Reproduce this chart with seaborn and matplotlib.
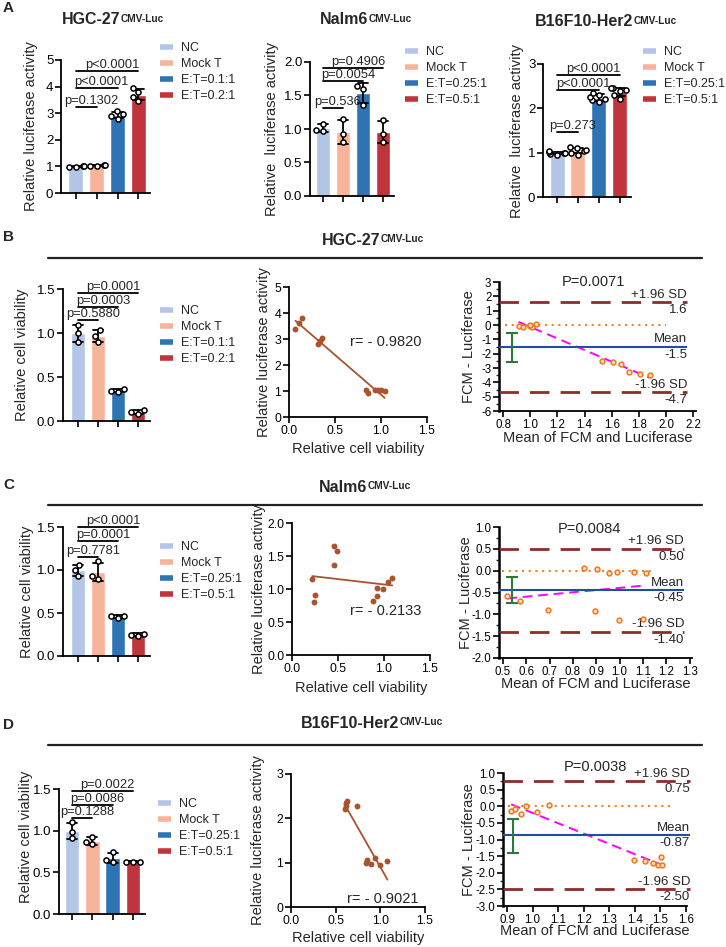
import numpy as np
import pandas as pd
import matplotlib
matplotlib.use("Agg")
import matplotlib.pyplot as plt
from matplotlib.lines import Line2D
from matplotlib.ticker import FormatStrFormatter, MultipleLocator
import seaborn as sns

# ------ DATA ------
groups_a = ["NC", "Mock T", "E:T=0.1:1", "E:T=0.2:1"]
groups_b = ["NC", "Mock T", "E:T=0.25:1", "E:T=0.5:1"]
bar_colors = ["#B4C6E7", "#F8B49A", "#2E74B5", "#C0343B"]

# A: relative luciferase activity (replicates per group)
hgc_luc = [[0.96, 0.99, 1.01, 1.03], [1.01, 1.03, 1.05, 1.06],
           [2.80, 2.90, 2.96, 3.08], [3.45, 3.60, 3.80, 3.95]]
nalm_luc = [[0.97, 0.99, 1.08], [0.80, 0.93, 1.15],
            [1.36, 1.60, 1.64], [0.80, 0.93, 1.13]]
b16_luc = [[0.95, 0.97, 0.99, 1.00, 1.02, 1.03], [0.95, 1.00, 1.04, 1.07, 1.10, 1.12],
           [2.15, 2.18, 2.22, 2.25, 2.30, 2.35], [2.22, 2.30, 2.38, 2.42, 2.45, 2.46]]
hgc_luc_p = ["p=0.1302", "p<0.0001", "p<0.0001"]
nalm_luc_p = ["p=0.536", "p=0.0054", "p=0.4906"]
b16_luc_p = ["p=0.273", "p<0.0001", "p<0.0001"]

# B-D: relative cell viability
hgc_via = [[0.90, 1.00, 1.09], [0.90, 0.97, 1.03], [0.33, 0.34, 0.36], [0.08, 0.10, 0.12]]
nalm_via = [[0.93, 1.00, 1.06], [0.90, 0.93, 1.10], [0.44, 0.46, 0.47], [0.23, 0.25, 0.26]]
b16_via = [[0.91, 0.99, 1.10], [0.84, 0.86, 0.93], [0.63, 0.65, 0.74], [0.62, 0.63, 0.63]]
hgc_via_p = ["p=0.5880", "p=0.0003", "p=0.0001"]
nalm_via_p = ["p=0.7781", "p=0.0001", "p<0.0001"]
b16_via_p = ["p=0.1288", "p=0.0086", "p=0.0022"]

# correlation: viability vs luciferase
hgc_cor_x = [0.07, 0.11, 0.14, 0.32, 0.34, 0.36, 0.84, 0.86, 0.93, 0.97, 1.00, 1.04]
hgc_cor_y = [3.38, 3.62, 3.82, 2.80, 2.92, 3.05, 1.02, 0.94, 1.04, 1.02, 1.04, 0.99]
nalm_cor_x = [0.22, 0.25, 0.24, 0.46, 0.49, 0.46, 0.88, 0.92, 0.92, 0.99, 1.04, 1.09]
nalm_cor_y = [1.15, 0.91, 0.81, 1.65, 1.58, 1.37, 0.82, 0.90, 1.02, 1.00, 1.10, 1.17]
b16_cor_x = [0.60, 0.62, 0.63, 0.62, 0.74, 0.85, 0.84, 0.90, 0.94, 1.00, 1.08]
b16_cor_y = [2.20, 2.34, 2.39, 2.28, 2.28, 1.07, 1.00, 0.96, 1.11, 0.95, 1.03]
hgc_r, nalm_r, b16_r = "r= - 0.9820", "r= - 0.2133", "r= - 0.9021"

# Bland-Altman: mean vs difference
hgc_ba_x = [0.914, 0.95, 0.998, 1.015, 1.04, 1.0, 1.53, 1.61, 1.67, 1.73, 1.81, 1.88]
hgc_ba_y = [-0.05, -0.16, -0.05, -0.12, 0.07, 0.0, -2.48, -2.6, -2.7, -3.29, -3.45, -3.52]
nalm_ba_x = [0.518, 0.573, 0.694, 0.847, 0.893, 0.905, 0.953, 0.988, 0.997, 1.06, 1.114, 1.10]
nalm_ba_y = [-0.58, -0.69, -0.91, 0.05, -0.92, 0.04, -0.06, -0.02, -1.12, -0.04, -0.06, -1.10]
b16_ba_x = [0.916, 0.93, 0.955, 0.975, 1.017, 1.063, 1.395, 1.44, 1.47, 1.49, 1.505, 1.503]
b16_ba_y = [-0.15, -0.07, -0.24, 0.0, -0.17, 0.03, -1.61, -1.65, -1.71, -1.78, -1.78, -1.53]
hgc_ba_lines, hgc_ba_vals = [1.6, -1.5, -4.7], ["1.6", "-1.5", "-4.7"]
nalm_ba_lines, nalm_ba_vals = [0.50, -0.45, -1.40], ["0.50", "-0.45", "-1.40"]
b16_ba_lines, b16_ba_vals = [0.75, -0.87, -2.50], ["0.75", "-0.87", "-2.50"]
hgc_ba_ci, nalm_ba_ci, b16_ba_ci = [-2.6, -0.55], [-0.75, -0.14], [-1.41, -0.37]
hgc_ba_p, nalm_ba_p, b16_ba_p = "P=0.0071", "P=0.0084", "P=0.0038"

# ------ STYLE ------
sns.set_style("ticks")
plt.rcParams["font.family"] = ["Liberation Sans", "DejaVu Sans"]
plt.rcParams["axes.unicode_minus"] = False

W, H = 726, 947
fig = plt.figure(figsize=(W / 100, H / 100), dpi=100)
brown = "#A9532F"


def fxy(x, y):
    return x / W, 1 - y / H


def add_ax(box):
    l, t, r, b = box
    return fig.add_axes([l / W, 1 - b / H, (r - l) / W, (b - t) / H])


def style(ax, box, ylab_x=None, xlab_y=None, ylab_frac=0.5, labelsize=9.3):
    l, t, r, b = box
    sns.despine(ax=ax)
    for s in ["left", "bottom"]:
        ax.spines[s].set_linewidth(1.3)
        ax.spines[s].set_color("black")
    ax.tick_params(direction="out", length=4, width=1.2, labelsize=labelsize, colors="black", pad=1.5)
    if ylab_x is not None:
        ax.yaxis.set_label_coords((ylab_x + 6 - l) / (r - l), ylab_frac)
    if xlab_y is not None:
        ax.xaxis.set_label_coords(0.5, (b - (xlab_y - 7)) / (b - t))


def bar_panel(box, reps, groups, ylim, ystep, fmt, ylabel, ylab_x, p_texts, p_heights, leg_xy,
              xlim=(-0.7, 3.55), ylab_frac=0.5):
    ax = add_ax(box)
    df = pd.DataFrame({"group": np.repeat(groups, [len(r) for r in reps]),
                       "value": np.concatenate(reps)})
    sns.barplot(data=df, x="group", y="value", hue="group", order=groups, hue_order=groups,
                palette=bar_colors, saturation=1, width=0.72, errorbar="sd", capsize=0.5,
                err_kws={"color": "black", "linewidth": 1.3}, legend=False, ax=ax)
    sns.swarmplot(data=df, x="group", y="value", order=groups, color="white", edgecolor="black",
                  linewidth=1.1, size=3.7, ax=ax)
    for (i, j), h, txt in zip([(0, 1), (0, 2), (0, 3)], p_heights, p_texts):
        ax.plot([i, j], [h, h], color="black", lw=1.3, clip_on=False)
        ax.text((i + j) / 2 + 0.25, h, txt, ha="center", va="bottom", fontsize=9.3, clip_on=False)
    ax.set_xlim(*xlim)
    ax.set_ylim(*ylim)
    ax.yaxis.set_major_locator(MultipleLocator(ystep))
    if fmt:
        ax.yaxis.set_major_formatter(FormatStrFormatter(fmt))
    ax.tick_params(axis="x", labelbottom=False)
    ax.set_xlabel("")
    ax.set_ylabel(ylabel, fontsize=10.5)
    style(ax, box, ylab_x=ylab_x, ylab_frac=ylab_frac, labelsize=9.5)
    handles = [Line2D([], [], color=c, lw=4, solid_capstyle="butt") for c in bar_colors]
    ax.legend(handles, groups, loc="upper left", bbox_to_anchor=fxy(*leg_xy),
              bbox_transform=fig.transFigure, frameon=False, fontsize=9.0, handlelength=1.05,
              handletextpad=0.6, labelspacing=0.32, borderpad=0, borderaxespad=0)
    return ax


def corr_panel(box, x, y, ylim, ystep, fmt, r_text, r_xy, ylab_x, xlab_y):
    ax = add_ax(box)
    sns.regplot(x=np.array(x), y=np.array(y), ci=None, color=brown,
                scatter_kws={"s": 18, "linewidths": 0, "alpha": 1},
                line_kws={"lw": 1.3}, ax=ax)
    ax.set_xlim(0, 1.5)
    ax.set_ylim(*ylim)
    ax.set_xticks([0, 0.5, 1.0, 1.5])
    ax.xaxis.set_major_formatter(FormatStrFormatter("%.1f"))
    ax.yaxis.set_major_locator(MultipleLocator(ystep))
    if fmt:
        ax.yaxis.set_major_formatter(FormatStrFormatter(fmt))
    ax.set_xlabel("Relative cell viability", fontsize=10.5)
    ax.set_ylabel("Relative luciferase activity", fontsize=10.5)
    style(ax, box, ylab_x=ylab_x, xlab_y=xlab_y, labelsize=8.8)
    fig.text(*fxy(*r_xy), r_text, ha="left", va="center", fontsize=10.5)
    return ax


def ba_panel(box, x, y, lines, vals, ci, p_text, p_xy, xlim, ylim, xstep, ystep, yfmt,
             line_end, zero_span, ci_x, ylab_x, xlab_y):
    ax = add_ax(box)
    sns.regplot(x=np.array(x), y=np.array(y), ci=None, scatter=False, color="#FF00FF",
                line_kws={"lw": 1.4, "ls": (0, (5, 3))}, ax=ax)
    sns.scatterplot(x=x, y=y, marker="o", s=12, color="#FFE2C4", edgecolor="#F2781E",
                    linewidth=1.1, zorder=5, ax=ax)
    ax.hlines([lines[0], lines[2]], xlim[0], line_end, colors="#8E2B2B", lw=2,
              linestyles=(0, (7, 4)), clip_on=False, zorder=3)
    ax.hlines(lines[1], xlim[0], line_end, colors="#1F4FA0", lw=1.5, clip_on=False, zorder=3)
    ax.hlines(0, zero_span[0], zero_span[1], colors="#F58220", lw=1.5, linestyles=(0, (1, 2.2)),
              zorder=3)
    ax.errorbar([ci_x], [(ci[0] + ci[1]) / 2], yerr=[(ci[1] - ci[0]) / 2], color="#2E7A3A",
                lw=1.5, capsize=4, capthick=1.5, zorder=4)
    tops = ["+1.96 SD", "Mean", "-1.96 SD"]
    for yv, top, val in zip(lines, tops, vals):
        ax.annotate(top, (line_end, yv), xytext=(0, 1), textcoords="offset points",
                    ha="right", va="bottom", fontsize=9.5, annotation_clip=False)
        ax.annotate(val, (line_end, yv), xytext=(0, -1.5), textcoords="offset points",
                    ha="right", va="top", fontsize=9.5, annotation_clip=False)
    fig.text(*fxy(*p_xy), p_text, ha="center", va="center", fontsize=10.5)
    ax.set_xlim(*xlim)
    ax.set_ylim(*ylim)
    ax.xaxis.set_major_locator(MultipleLocator(xstep))
    ax.xaxis.set_major_formatter(FormatStrFormatter("%.1f"))
    ax.yaxis.set_major_locator(MultipleLocator(ystep))
    ax.yaxis.set_minor_locator(MultipleLocator(ystep / 2))
    ax.yaxis.set_major_formatter(FormatStrFormatter(yfmt))
    ax.set_xlabel("Mean of FCM and Luciferase", fontsize=10.5)
    ax.set_ylabel("FCM - Luciferase", fontsize=10.5)
    style(ax, box, ylab_x=ylab_x, xlab_y=xlab_y, labelsize=8.3)
    ax.spines["left"].set_linewidth(1.8)
    ax.tick_params(axis="y", which="minor", direction="out", length=2.5, width=1)
    return ax


def title(xc, y, main, sup):
    t = fig.text(*fxy(xc, y), main, ha="center", va="center", fontsize=11.5, fontweight="bold")
    fig.axes[0].annotate(sup, xy=(1.0, 0.92), xycoords=t, xytext=(0.5, 0), textcoords="offset points",
                         ha="left", va="top", fontsize=7.3, fontweight="bold", annotation_clip=False)


def separator(y):
    fig.add_artist(Line2D([48 / W, 702 / W], [1 - y / H, 1 - y / H], color="#222222", lw=1.6))


# ------ PANEL A ------
bar_panel((61, 60, 150, 193), hgc_luc, groups_a, (0, 5), 1, None,
          "Relative luciferase activity", 32, hgc_luc_p, [3.23, 3.95, 4.59], (160, 42))
bar_panel((310, 62, 394, 196), nalm_luc, groups_b, (0, 2), 0.5, "%.1f",
          "Relative  luciferase activity", 273, nalm_luc_p, [1.31, 1.72, 1.91], (405, 46),
          xlim=(-0.65, 3.55))
bar_panel((543, 64, 631, 197), b16_luc, groups_b, (0, 3), 1, None,
          "Relative  luciferase activity", 518, b16_luc_p, [1.47, 2.42, 2.75], (643, 46),
          xlim=(-0.68, 3.55))

# ------ PANEL B ------
bar_panel((63, 289, 150, 421), hgc_via, groups_a, (0, 1.5), 0.5, "%.1f",
          "Relative cell viability", 23, hgc_via_p, [1.15, 1.30, 1.45], (160, 305),
          xlim=(-0.75, 3.6))
corr_panel((289, 287, 427, 417), hgc_cor_x, hgc_cor_y, (0, 5), 1, None, hgc_r, (350, 342), 265, 449)
ba_panel((499, 282, 696, 411), hgc_ba_x, hgc_ba_y, hgc_ba_lines, hgc_ba_vals, hgc_ba_ci, hgc_ba_p,
         (593, 282), (0.77, 2.22), (-6, 3), 0.2, 1, "%d", 2.154, (0.814, 1.999), 0.866, 470, 438)

# ------ PANEL C ------
bar_panel((63, 527, 150, 656), nalm_via, groups_b, (0, 1.5), 0.5, "%.1f",
          "Relative cell viability", 28, nalm_via_p, [1.15, 1.34, 1.50], (160, 541),
          xlim=(-0.75, 3.6))
corr_panel((292, 523, 430, 655), nalm_cor_x, nalm_cor_y, (0, 2), 0.5, "%.1f", nalm_r, (350, 611), 260, 688)
ba_panel((499, 527, 692, 658), nalm_ba_x, nalm_ba_y, nalm_ba_lines, nalm_ba_vals, nalm_ba_ci, nalm_ba_p,
         (589, 529), (0.483, 1.31), (-2, 1), 0.1, 0.5, "%.1f", 1.276, (0.494, 1.143), 0.537, 467, 684)

# ------ PANEL D ------
bar_panel((59, 789, 145, 914), b16_via, groups_b, (0, 1.5), 0.5, "%.1f",
          "Relative cell viability", 27, b16_via_p, [1.15, 1.31, 1.48], (158, 798),
          xlim=(-0.65, 3.6), ylab_frac=0.62)
corr_panel((291, 774, 425, 907), b16_cor_x, b16_cor_y, (0, 3), 1, None, b16_r, (347, 899), 259, 938)
ba_panel((503, 773, 687, 906), b16_ba_x, b16_ba_y, b16_ba_lines, b16_ba_vals, b16_ba_ci, b16_ba_p,
         (595, 767), (0.884, 1.604), (-3, 1), 0.1, 0.5, "%.1f", 1.616, (0.904, 1.549), 0.922, 470, 931)

# ------ TITLES, LETTERS, SEPARATORS ------
title(91, 20, "HGC-27", "CMV-Luc")
title(344, 20, "Nalm6", "CMV-Luc")
title(584, 22, "B16F10-Her2", "CMV-Luc")
title(351, 240, "HGC-27", "CMV-Luc")
title(343, 487, "Nalm6", "CMV-Luc")
title(350, 723, "B16F10-Her2", "CMV-Luc")
for letter, y in [("A", 8), ("B", 237), ("C", 485), ("D", 725)]:
    fig.text(*fxy(3, y), letter, ha="left", va="center", fontsize=11, fontweight="bold")
for y in [258, 505, 745]:
    separator(y)

fig.savefig("out.png", dpi=100)
